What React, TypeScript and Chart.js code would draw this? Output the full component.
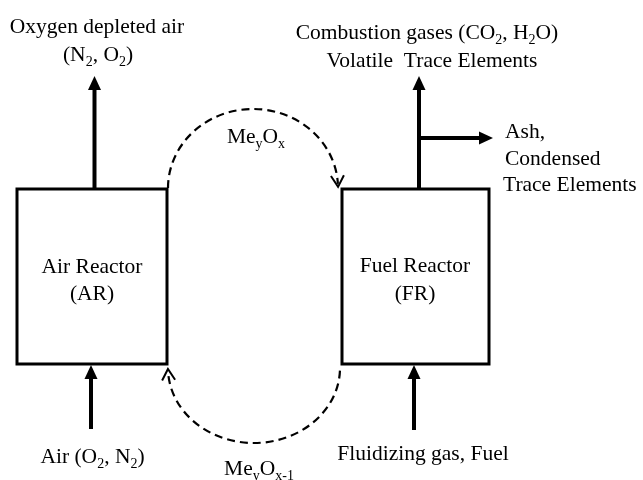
import { useEffect, useRef } from "react";
import { Chart, registerables } from "chart.js";

Chart.register(...registerables);

// ---- Diagram content (data coordinates: x 0..643, y 0..480 top-down) ----
const reactorNames = ["Air Reactor", "Fuel Reactor"];
const reactorCodes = ["(AR)", "(FR)"];
const reactorLeft = [17, 342];
const reactorRight = [167, 489];
const reactorTop = [189, 189];
const reactorBottom = [364, 364];
const reactorNameX = [92, 415];
const reactorNameY = [273, 272];
const reactorCodeY = [300, 300];

// Solid flow arrows (start -> tip)
const flowFromX = [94.5, 419, 419, 91, 414];
const flowFromY = [189, 189, 138, 429, 430];
const flowToX = [94.5, 419, 493, 91, 414];
const flowToY = [76, 76, 138, 365, 365];

// Dashed circulation loops (half ellipses)
const loopLabels = ["Me_{y}O_{x}", "Me_{y}O_{x-1}"];
const loopLabelX = [256, 259];
const loopLabelY = [143, 475];
const loopCx = [253, 254];
const loopCy = [188, 368];
const loopRx = [85, 86];
const loopRy = [79, 75];
const loopStartDeg = [180, 2];
const loopEndDeg = [357, 177];

// Stream labels
const streamText = [
  "Oxygen depleted air",
  "(N_{2}, O_{2})",
  "Combustion gases (CO_{2}, H_{2}O)",
  "Volatile  Trace Elements",
  "Ash,",
  "Condensed",
  "Trace Elements",
  "Air (O_{2}, N_{2})",
  "Fluidizing gas, Fuel",
];
const streamX = [97, 98, 427, 432, 505, 505, 503, 92.5, 423];
const streamY = [33, 61, 39, 67, 138, 165, 191, 463, 460];
const streamAlign = ["center", "center", "center", "center", "left", "left", "left", "center", "center"];

// ---- Styles ----
const FONT_FAMILY = '"Liberation Serif", "Times New Roman", serif';
const FONT_SIZE = 21.5;
const SUB_SIZE = 14;
const SUB_DROP = 5;
const HEAD_LEN = 14;
const HEAD_HALF = 6.5;

function drawRich(ctx: CanvasRenderingContext2D, s: string, x: number, y: number, align: string) {
  const parts: { t: string; sub: boolean }[] = [];
  const re = /_\{([^}]*)\}/g;
  let last = 0;
  let m: RegExpExecArray | null;
  while ((m = re.exec(s)) !== null) {
    if (m.index > last) parts.push({ t: s.slice(last, m.index), sub: false });
    parts.push({ t: m[1], sub: true });
    last = m.index + m[0].length;
  }
  if (last < s.length) parts.push({ t: s.slice(last), sub: false });
  const mainFont = `${FONT_SIZE}px ${FONT_FAMILY}`;
  const subFont = `${SUB_SIZE}px ${FONT_FAMILY}`;
  let total = 0;
  const widths = parts.map((p) => {
    ctx.font = p.sub ? subFont : mainFont;
    const w = ctx.measureText(p.t).width;
    total += w;
    return w;
  });
  let cx = align === "center" ? x - total / 2 : x;
  ctx.textAlign = "left";
  ctx.textBaseline = "alphabetic";
  parts.forEach((p, i) => {
    ctx.font = p.sub ? subFont : mainFont;
    ctx.fillText(p.t, cx, p.sub ? y + SUB_DROP : y);
    cx += widths[i];
  });
}

const diagramPlugin = {
  id: "diagram",
  afterDatasetsDraw(chart: any) {
    const ctx: CanvasRenderingContext2D = chart.ctx;
    const xs = chart.scales.x;
    const ys = chart.scales.y;
    const px = (v: number) => xs.getPixelForValue(v);
    const py = (v: number) => ys.getPixelForValue(v);
    ctx.save();
    ctx.fillStyle = "#000";
    ctx.strokeStyle = "#000";

    // solid arrowheads
    for (let i = 0; i < flowToX.length; i++) {
      const x0 = px(flowFromX[i]), y0 = py(flowFromY[i]);
      const x1 = px(flowToX[i]), y1 = py(flowToY[i]);
      const len = Math.hypot(x1 - x0, y1 - y0);
      const dx = (x1 - x0) / len, dy = (y1 - y0) / len;
      const bx = x1 - dx * HEAD_LEN, by = y1 - dy * HEAD_LEN;
      ctx.beginPath();
      ctx.moveTo(x1, y1);
      ctx.lineTo(bx - dy * HEAD_HALF, by + dx * HEAD_HALF);
      ctx.lineTo(bx + dy * HEAD_HALF, by - dx * HEAD_HALF);
      ctx.closePath();
      ctx.fill();
    }

    // dashed loops with open arrowheads
    for (let i = 0; i < loopCx.length; i++) {
      const cx = px(loopCx[i]), cy = py(loopCy[i]);
      const rx = Math.abs(px(loopCx[i] + loopRx[i]) - cx);
      const ry = Math.abs(py(loopCy[i] + loopRy[i]) - cy);
      const a0 = (loopStartDeg[i] * Math.PI) / 180;
      const a1 = (loopEndDeg[i] * Math.PI) / 180;
      ctx.lineWidth = 2.2;
      ctx.setLineDash([8, 5]);
      ctx.beginPath();
      ctx.ellipse(cx, cy, rx, ry, 0, a0, a1);
      ctx.stroke();
      ctx.setLineDash([]);
      // arrowhead at end
      const ex = cx + rx * Math.cos(a1), ey = cy + ry * Math.sin(a1);
      let tx = -rx * Math.sin(a1), ty = ry * Math.cos(a1);
      const tl = Math.hypot(tx, ty);
      tx /= tl; ty /= tl;
      const tipX = ex + tx * 3, tipY = ey + ty * 3;
      const arm = 13, ang = (30 * Math.PI) / 180;
      const c = Math.cos(ang), s = Math.sin(ang);
      const l1x = -(tx * c - ty * s), l1y = -(tx * s + ty * c);
      const l2x = -(tx * c + ty * s), l2y = -(-tx * s + ty * c);
      ctx.lineWidth = 2;
      ctx.beginPath();
      ctx.moveTo(tipX + l1x * arm, tipY + l1y * arm);
      ctx.lineTo(tipX, tipY);
      ctx.lineTo(tipX + l2x * arm, tipY + l2y * arm);
      ctx.stroke();
      ctx.fillStyle = "#000";
      drawRich(ctx, loopLabels[i], px(loopLabelX[i]), py(loopLabelY[i]), "center");
    }

    // reactor labels
    for (let i = 0; i < reactorNames.length; i++) {
      drawRich(ctx, reactorNames[i], px(reactorNameX[i]), py(reactorNameY[i]), "center");
      drawRich(ctx, reactorCodes[i], px(reactorNameX[i]), py(reactorCodeY[i]), "center");
    }

    // stream labels
    for (let i = 0; i < streamText.length; i++) {
      drawRich(ctx, streamText[i], px(streamX[i]), py(streamY[i]), streamAlign[i]);
    }
    ctx.restore();
  },
};

export default function App() {
  const ref = useRef<HTMLCanvasElement | null>(null);
  useEffect(() => {
    if (!ref.current) return;
    const datasets: any[] = [];
    for (let i = 0; i < reactorNames.length; i++) {
      datasets.push({
        type: "line",
        data: [
          { x: reactorLeft[i], y: reactorTop[i] },
          { x: reactorRight[i], y: reactorTop[i] },
          { x: reactorRight[i], y: reactorBottom[i] },
          { x: reactorLeft[i], y: reactorBottom[i] },
          { x: reactorLeft[i], y: reactorTop[i] },
          { x: reactorRight[i], y: reactorTop[i] },
        ],
        borderColor: "#000",
        borderWidth: 3,
        borderJoinStyle: "miter",
        borderCapStyle: "butt",
        pointRadius: 0,
        fill: false,
        tension: 0,
      });
    }
    for (let i = 0; i < flowToX.length; i++) {
      const dx = flowToX[i] - flowFromX[i];
      const dy = flowToY[i] - flowFromY[i];
      const len = Math.hypot(dx, dy);
      datasets.push({
        type: "line",
        data: [
          { x: flowFromX[i], y: flowFromY[i] },
          { x: flowToX[i] - (dx / len) * HEAD_LEN * 0.6, y: flowToY[i] - (dy / len) * HEAD_LEN * 0.6 },
        ],
        borderColor: "#000",
        borderWidth: 4,
        borderCapStyle: "butt",
        pointRadius: 0,
        fill: false,
      });
    }
    const chart = new Chart(ref.current, {
      type: "scatter",
      data: { datasets },
      options: {
        animation: false,
        responsive: false,
        events: [],
        layout: { padding: 0 },
        plugins: { legend: { display: false }, tooltip: { enabled: false } },
        scales: {
          x: { type: "linear", min: 0, max: 643, display: false },
          y: { type: "linear", min: 0, max: 480, reverse: true, display: false },
        },
      },
      plugins: [diagramPlugin],
    } as any);
    return () => chart.destroy();
  }, []);
  return (
    <div style={{ position: "fixed", left: 0, top: 0, width: 643, height: 480, background: "#fff" }}>
      <canvas ref={ref} width={643} height={480} style={{ display: "block" }} />
    </div>
  );
}
